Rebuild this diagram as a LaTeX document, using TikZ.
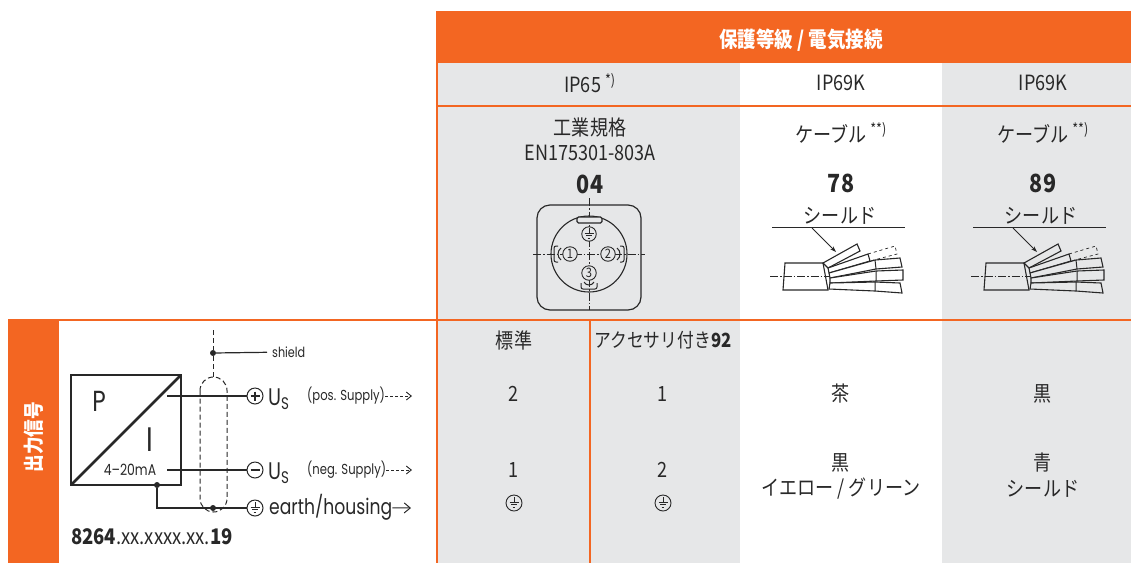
\documentclass[tikz,border=0pt]{standalone}
\usepackage{fontspec}
\setmainfont{Noto Sans CJK JP}[FakeStretch=0.86]
\newfontfamily\geofont{Poppins}[FakeStretch=0.8]
\usepackage{tikz}
\usetikzlibrary{
    arrows.meta,
    calc,
    positioning
}

\definecolor{orng}{RGB}{243,102,34}
\definecolor{cellgray}{RGB}{230,231,232}
\definecolor{ink}{RGB}{40,40,40}

\tikzset{
    cell/.style={font=\fontsize{21}{24}\selectfont, text=ink, inner sep=0pt},
    cellbold/.style={font=\fontsize{25}{28}\selectfont\bfseries, text=ink, inner sep=0pt},
    head/.style={font=\fontsize{21.5}{24}\selectfont\bfseries, text=white, inner sep=0pt},
    rule/.style={draw=orng, line width=2pt},
    geo/.style={font=\geofont\fontsize{#1}{#1}\selectfont, text=ink, inner sep=0pt},
    wire/.style={draw=ink, line width=1.2pt},
    term/.style={circle, draw=ink, line width=1pt, minimum size=16pt, inner sep=0pt, fill=white},
    pinc/.style={circle, draw=ink, line width=0.9pt, minimum size=14.5pt, inner sep=0pt, fill=cellgray,
        font=\fontsize{13}{13}\selectfont, text=ink},
    dot/.style={circle, fill=ink, minimum size=6pt, inner sep=0pt},
    shieldline/.style={draw=ink, line width=1pt, dash pattern=on 5pt off 3pt},
    axisline/.style={draw=ink, line width=0.6pt, dash pattern=on 8pt off 2pt on 1.5pt off 2pt},
    part/.style={draw=ink, line width=1.1pt, fill=white},
    gnd/.pic={
        \draw[ink, line width=0.8pt] (0,-6) -- (0,-1) (-4.5,-1) -- (4.5,-1) (-3,1.5) -- (3,1.5) (-1.3,4) -- (1.3,4);
    },
    plussign/.pic={
        \draw[ink, line width=1.1pt] (-4.5,0) -- (4.5,0) (0,-4.5) -- (0,4.5);
    },
    minussign/.pic={
        \draw[ink, line width=1.1pt] (-4.5,0) -- (4.5,0);
    }
}

\begin{document}
\begin{tikzpicture}[x=1pt, y=-1pt]
    \useasboundingbox (0,0) rectangle (1131,563);
    \fill[orng] (436,11) rectangle (1131,63);
    \fill[cellgray] (438,63) rectangle (740,563);
    \fill[cellgray] (942,63) rectangle (1131,563);
    \fill[orng] (8,320) rectangle (59,563);
    \draw[rule] (436,106) -- (1131,106);
    \draw[rule, line width=2.5pt] (8,320) -- (1131,320);
    \draw[rule] (437,11) -- (437,563);
    \draw[rule, line width=1.5pt] (590,320) -- (590,563);

    \node[head] (title) at (801,40) {保護等級 / 電気接続};
    \node[head, rotate=90, font=\fontsize{20.5}{24}\selectfont\bfseries] (outsig) at (34,437) {出力信号};

    \node[cell] (ip65) at (590,83) {IP65 \textsuperscript{*)}};
    \node[cell] (ip78) at (841,83) {IP69K};
    \node[cell] (ip89) at (1043,83) {IP69K};

    \node[cell] (std) at (590,128) {工業規格};
    \node[cell] (en) at (590,153) {EN175301-803A};
    \node[cellbold] (n04) at (590,184) {04};
    \begin{scope}[shift={(0,0)}]
        \draw[ink, line width=1.2pt, rounded corners=13pt] (537,205) rectangle (641,310);
        \draw[ink, line width=1.1pt] (589,254) circle[radius=38pt];
        \draw[axisline] (533,254) -- (645,254);
        \draw[axisline] (589,198) -- (589,310);
        \draw[part, fill=cellgray, rounded corners=1.5pt] (577,217) rectangle (602,223);
        \node[pinc] (pe) at (589,234) {};
        \pic at (pe) {gnd};
        \node[pinc] (p1) at (570,254) {1};
        \node[pinc] (p2) at (608,254) {2};
        \node[pinc] (p3) at (589,273) {3};
        \draw[ink, line width=1pt, rounded corners=2pt] (558,246) -- (554,246) -- (554,262) -- (558,262);
        \draw[ink, line width=1pt] (561,248) .. controls (557,251) and (557,257) .. (561,260);
        \draw[ink, line width=1pt, rounded corners=2pt] (620,246) -- (624,246) -- (624,262) -- (620,262);
        \draw[ink, line width=1pt] (617,248) .. controls (621,251) and (621,257) .. (617,260);
        \draw[ink, line width=1pt, rounded corners=2pt] (581,283) -- (581,289) -- (597,289) -- (597,283);
        \draw[ink, line width=1pt] (584,282) .. controls (586,286) and (592,286) .. (594,282);
    \end{scope}

    \begin{scope}[shift={(0,0)}]
        \node[cell] (k78) at (841,133) {ケーブル \textsuperscript{**)}};
        \node[cellbold] (n78) at (841,183) {78};
        \node[cell] (s78) at (840,216) {シールド};
        \draw[ink, line width=0.8pt] (772,227) -- (905,227);
        \draw[ink, line width=0.8pt, -{Stealth[length=6pt, width=4pt]}] (812,228) -- (836,252);
        \draw[part] (785,263) -- (823,263) -- (828,290) -- (783,290) -- cycle;
        \draw[axisline] (770,276) -- (832,276);
        \draw[part] (823,263) -- (857,244) -- (860,251) -- (828,268) -- cycle;
        \draw[part, dashed, line width=0.7pt] (868,254) -- (895,246) -- (897,254) -- (870,261);
        \draw[part] (828,268) -- (868,254) -- (870,261) -- (829,273) -- cycle;
        \draw[part] (829,273) -- (875,260) -- (900,258) -- (902,267) -- (876,269) -- (830,278) -- cycle;
        \draw[part] (830,278) -- (876,271) -- (903,270) -- (903,280) -- (876,281) -- (830,283) -- cycle;
        \draw[part] (830,283) -- (875,282) -- (900,283) -- (902,293) -- (875,291) -- (829,289) -- cycle;
        \draw[ink, line width=1pt] (875,260) -- (876,269) (876,271) -- (876,281) (875,282) -- (875,291);
    \end{scope}

    \begin{scope}[shift={(201,0)}, part/.append style={fill=cellgray}]
        \node[cell] (k89) at (842,133) {ケーブル \textsuperscript{**)}};
        \node[cellbold] (n89) at (842,183) {89};
        \node[cell] (s89) at (840,216) {シールド};
        \draw[ink, line width=0.8pt] (772,227) -- (905,227);
        \draw[ink, line width=0.8pt, -{Stealth[length=6pt, width=4pt]}] (812,228) -- (836,252);
        \draw[part] (785,263) -- (823,263) -- (828,290) -- (783,290) -- cycle;
        \draw[axisline] (770,276) -- (832,276);
        \draw[part] (823,263) -- (857,244) -- (860,251) -- (828,268) -- cycle;
        \draw[part, dashed, line width=0.7pt] (868,254) -- (895,246) -- (897,254) -- (870,261);
        \draw[part] (828,268) -- (868,254) -- (870,261) -- (829,273) -- cycle;
        \draw[part] (829,273) -- (875,260) -- (900,258) -- (902,267) -- (876,269) -- (830,278) -- cycle;
        \draw[part] (830,278) -- (876,271) -- (903,270) -- (903,280) -- (876,281) -- (830,283) -- cycle;
        \draw[part] (830,283) -- (875,282) -- (900,283) -- (902,293) -- (875,291) -- (829,289) -- cycle;
        \draw[ink, line width=1pt] (875,260) -- (876,269) (876,271) -- (876,281) (875,282) -- (875,291);
    \end{scope}

    \node[cell] (plain) at (514,340) {標準};
    \node[cell, font=\fontsize{19.5}{24}\selectfont] (acc) at (663,340) {アクセサリ付き\textbf{92}};
    \node[cell] (pa2) at (514,394) {2};
    \node[cell] (pb1) at (663,394) {1};
    \node[cell] (c78a) at (841,394) {茶};
    \node[cell] (c89a) at (1043,394) {黒};
    \node[cell] (pa1) at (514,470) {1};
    \node[cell] (pb2) at (663,470) {2};
    \node[cell] (c78b) at (841,463) {黒};
    \node[cell] (c78c) at (841,489) {イエロー / グリーン};
    \node[cell] (c89b) at (1043,463) {青};
    \node[cell] (c89c) at (1043,489) {シールド};
    \node[pinc, minimum size=16pt] (ea) at (514,503) {};
    \pic at (ea) {gnd};
    \node[pinc, minimum size=16pt] (eb) at (663,503) {};
    \pic at (eb) {gnd};

    \draw[ink, line width=2.5pt] (71,375) rectangle (181,485);
    \draw[ink, line width=2.5pt] (71,485) -- (181,375);
    \node[geo=29] (lp) at (99,401) {P};
    \node[geo=34] (li) at (150,440) {I};
    \node[geo=15.5] (range) at (130,470) {4–20mA};
    \coordinate (pout) at (167,396);
    \coordinate (nout) at (167,470);
    \node[dot] (d1) at (157,485) {};
    \node[term] (tp) at (255,396) {};
    \pic at (tp) {plussign};
    \node[term] (tn) at (255,470) {};
    \pic at (tn) {minussign};
    \node[term] (te) at (255,508) {};
    \pic at (te) {gnd};
    \draw[wire] (pout) -- (tp);
    \draw[wire] (nout) -- (tn);
    \draw[wire] (d1) |- (te);
    \node[dot] (d2) at (213,508) {};
    \coordinate (shtop) at (213,330);
    \node[dot] (d3) at (213,353) {};
    \coordinate (shcap) at (213,377);
    \draw[shieldline] (shtop) -- (d3) -- (shcap);
    \draw[shieldline, rounded corners=13.5pt] (200,377) rectangle (227,512);
    \node[geo=14, anchor=west] (shield) at (272,352) {shield};
    \draw[wire, shorten >=5pt] (d3) -- (shield);
    \node[geo=24, anchor=west] (usp) at (268,399) {U\textsubscript{S}};
    \node[geo=24, anchor=west] (usn) at (268,473) {U\textsubscript{S}};
    \node[geo=14.5, anchor=west] (possup) at (307,396) {(pos. Supply)};
    \node[geo=14.5, anchor=west] (negsup) at (307,470) {(neg. Supply)};
    \coordinate (posend) at (412,396);
    \coordinate (negend) at (412,470);
    \draw[ink, line width=0.9pt, dash pattern=on 3pt off 2pt, -{Straight Barb[length=5pt, width=8pt]}] (possup) -- (posend);
    \draw[ink, line width=0.9pt, dash pattern=on 3pt off 2pt, -{Straight Barb[length=5pt, width=8pt]}] (negsup) -- (negend);
    \node[geo=21.5, anchor=west] (earth) at (269,507) {earth/housing};
    \coordinate (earthend) at (411,508);
    \draw[ink, line width=1pt, -{Straight Barb[length=6pt, width=10pt]}] (earth) -- (earthend);
    \node[cell, anchor=west, font=\fontsize{21.5}{24}\selectfont] (code) at (71,537) {\textbf{8264}.xx.xxxx.xx.\textbf{19}};
\end{tikzpicture}
\end{document}
